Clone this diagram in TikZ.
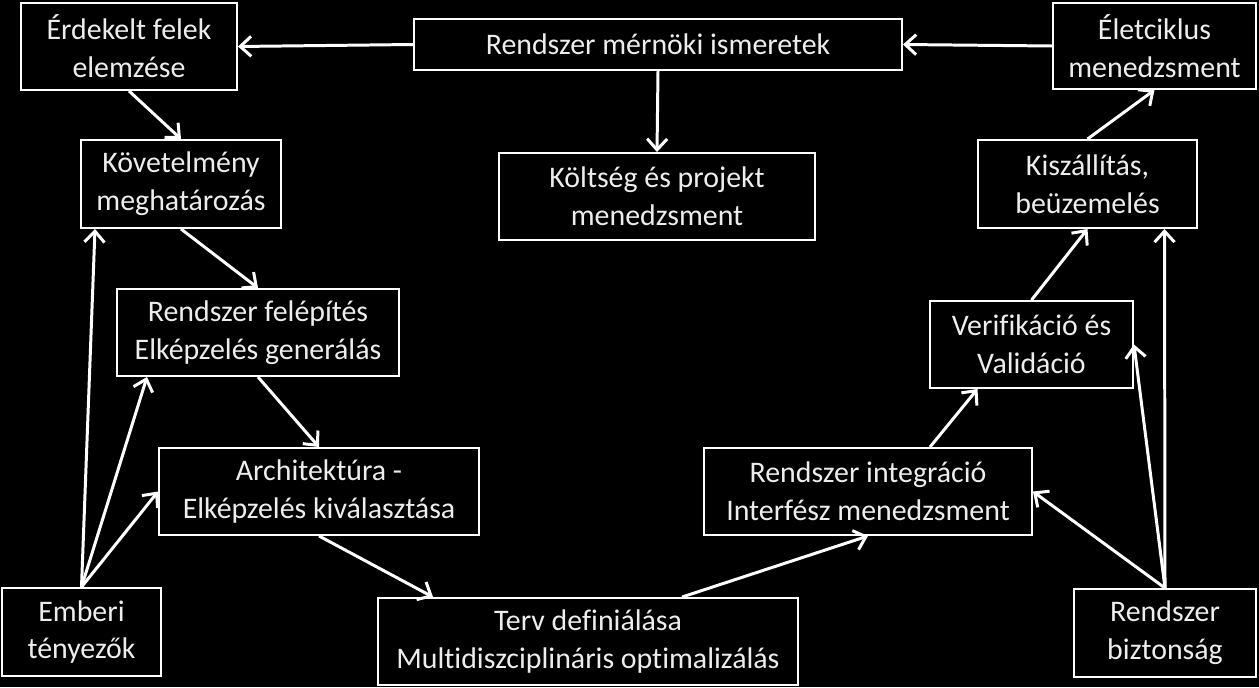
\documentclass[tikz,border=0pt]{standalone}
\usepackage{fontspec}
\setmainfont{Carlito}[Ligatures=NoCommon]
\usetikzlibrary{arrows.meta}
\begin{document}
\begin{tikzpicture}[
  doboz/.style={draw=white,line width=1.1pt,fill=black,text=white!93!black,align=center,
    inner sep=0pt,font=\fontsize{17}{21.5}\selectfont},
  nyil/.style={draw=white,line width=1.7pt,-{Straight Barb[length=2.2mm,width=4mm]}}]
\fill[black] (0,0) rectangle (25.18,-13.74);
\useasboundingbox (0,0) rectangle (25.18,-13.74);
\node[doboz,minimum width=4.32cm,minimum height=1.74cm] (erd) at (2.58,-0.93) {Érdekelt felek\\elemzése};
\node[doboz,minimum width=9.76cm,minimum height=1.02cm] (rmi) at (13.16,-0.89) {Rendszer mérnöki ismeretek};
\node[doboz,minimum width=4.06cm,minimum height=1.72cm] (elet) at (23.09,-0.92) {Életciklus\\menedzsment};
\node[doboz,minimum width=4.00cm,minimum height=1.76cm] (kov) at (3.62,-3.68) {Követelmény\\meghatározás};
\node[doboz,minimum width=6.32cm,minimum height=1.74cm] (kolt) at (13.14,-3.93) {Költség és projekt\\menedzsment};
\node[doboz,minimum width=4.38cm,minimum height=1.76cm] (kisz) at (21.75,-3.68) {Kiszállítás,\\beüzemelés};
\node[doboz,minimum width=5.64cm,minimum height=1.74cm] (fel) at (5.16,-6.65) {Rendszer felépítés\\Elképzelés generálás};
\node[doboz,minimum width=4.06cm,minimum height=1.74cm] (ver) at (20.63,-6.89) {Verifikáció és\\Validáció};
\node[doboz,minimum width=6.40cm,minimum height=1.74cm] (arch) at (6.38,-9.83) {Architektúra -\\Elképzelés kiválasztása};
\node[doboz,minimum width=6.56cm,minimum height=1.74cm] (integ) at (17.36,-9.83) {Rendszer integráció\\Interfész menedzsment};
\node[doboz,minimum width=3.18cm,minimum height=1.76cm] (emb) at (1.63,-12.64) {Emberi\\tényezők};
\node[doboz,minimum width=8.40cm,minimum height=1.74cm] (terv) at (11.76,-12.83) {Terv definiálása\\Multidiszciplináris optimalizálás};
\node[doboz,minimum width=3.64cm,minimum height=1.76cm] (bizt) at (23.30,-12.66) {Rendszer\\biztonság};
\draw[nyil] (rmi.west) -- (erd.east);
\draw[nyil] (elet.west) -- (rmi.east);
\draw[nyil] (rmi.south) -- (kolt.north);
\draw[nyil] (erd.south) -- (kov.north);
\draw[nyil] (kov.south) -- (fel.north);
\draw[nyil] (fel.south) -- (arch.north);
\draw[nyil] (arch.south) -- ([xshift=-3.1cm]terv.north);
\draw[nyil] ([xshift=1.88cm]terv.north) -- (integ.south);
\draw[nyil] ([xshift=1.24cm]integ.north) -- ([xshift=-1.08cm]ver.south);
\draw[nyil] (ver.north) -- (kisz.south);
\draw[nyil] (kisz.north) -- (elet.south);
\draw[nyil] (emb.north) -- ([xshift=-1.72cm]kov.south);
\draw[nyil] (emb.north) -- ([xshift=-2.22cm]fel.south);
\draw[nyil] (emb.north) -- (arch.west);
\draw[nyil] (bizt.north) -- (integ.east);
\draw[nyil] (bizt.north) -- (ver.east);
\draw[nyil] (bizt.north) -- ([xshift=1.54cm]kisz.south);
\end{tikzpicture}
\end{document}
